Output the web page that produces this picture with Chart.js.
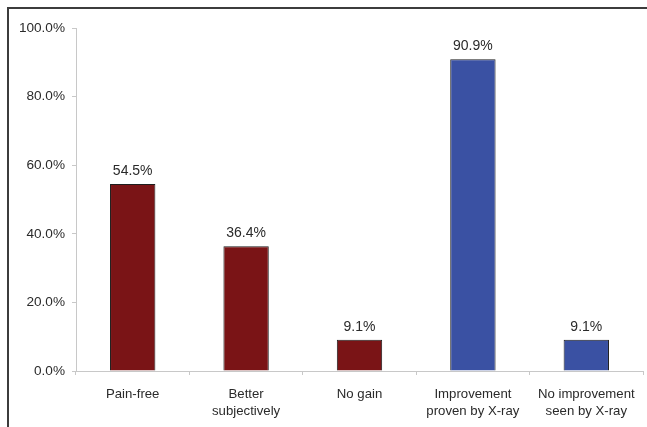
<!DOCTYPE html>
<html>
<head>
<meta charset="utf-8">
<script src="https://cdn.jsdelivr.net/npm/chart.js@4"></script>
<style>
  html, body { margin: 0; padding: 0; background: #fff; }
  #wrap { position: relative; width: 647px; height: 427px; overflow: hidden; }
  #frame { position: absolute; left: 7px; top: 7px; width: 660px; height: 440px;
           border-top: 2px solid #3c3c3c; border-left: 2px solid #3c3c3c; pointer-events: none; }
  canvas { position: absolute; left: 0; top: 0; }
</style>
</head>
<body>
<div id="wrap">
  <canvas id="c" width="647" height="427"></canvas>
  <div id="frame"></div>
</div>
<script>
// Outcome categories and their shares (percent)
const categories = [
  ['Pain-free'],
  ['Better', 'subjectively'],
  ['No gain'],
  ['Improvement', 'proven by X-ray'],
  ['No improvement', 'seen by X-ray']
];
const values = [54.5, 36.4, 9.1, 90.9, 9.1];
const yTicks = [0, 20, 40, 60, 80, 100];

// Clinical outcome bars in red, radiological outcome bars in blue
const barColors = ['#7a1416', '#7a1416', '#7a1416', '#3a51a3', '#3a51a3'];

const fontFamily = '"Liberation Sans", Arial, sans-serif';
const textColor = '#2a2a2a';

const valueLabels = {
  id: 'valueLabels',
  afterDatasetsDraw(chart) {
    const ctx = chart.ctx;
    const meta = chart.getDatasetMeta(0);
    ctx.save();
    ctx.font = '14px ' + fontFamily;
    ctx.fillStyle = textColor;
    ctx.textAlign = 'center';
    ctx.textBaseline = 'bottom';
    meta.data.forEach((bar, i) => {
      ctx.fillText(values[i].toFixed(1) + '%', bar.x, bar.y - 6);
    });
    ctx.restore();
  }
};

new Chart(document.getElementById('c'), {
  type: 'bar',
  data: {
    labels: categories,
    datasets: [{
      data: values,
      backgroundColor: barColors,
      borderColor: '#1e1e1e',
      borderWidth: 1,
      categoryPercentage: 1,
      barPercentage: 0.4
    }]
  },
  options: {
    responsive: false,
    animation: false,
    devicePixelRatio: 1,
    layout: { padding: { top: 28, right: 4, left: 0, bottom: 0 } },
    plugins: { legend: { display: false }, tooltip: { enabled: false } },
    scales: {
      x: {
        offset: true,
        grid: { display: true, drawOnChartArea: false, drawTicks: true, tickLength: 4, color: '#c8c8c8', offset: true },
        border: { display: true, color: '#c8c8c8', width: 1 },
        ticks: { color: textColor, font: { family: fontFamily, size: 13.2, lineHeight: 1.35 }, padding: 10, maxRotation: 0, autoSkip: false },
        afterFit(scale) { scale.height = 56; }
      },
      y: {
        min: 0,
        max: 100,
        afterBuildTicks(scale) { scale.ticks = yTicks.map(v => ({ value: v })); },
        grid: { display: true, drawOnChartArea: false, drawTicks: true, tickLength: 4, color: '#c8c8c8' },
        border: { display: true, color: '#c8c8c8', width: 1 },
        ticks: {
          color: textColor,
          font: { family: fontFamily, size: 13.6 },
          padding: 7,
          callback: v => v.toFixed(1) + '%'
        },
        afterFit(scale) { scale.width = 76; }
      }
    }
  },
  plugins: [valueLabels]
});
</script>
</body>
</html>
